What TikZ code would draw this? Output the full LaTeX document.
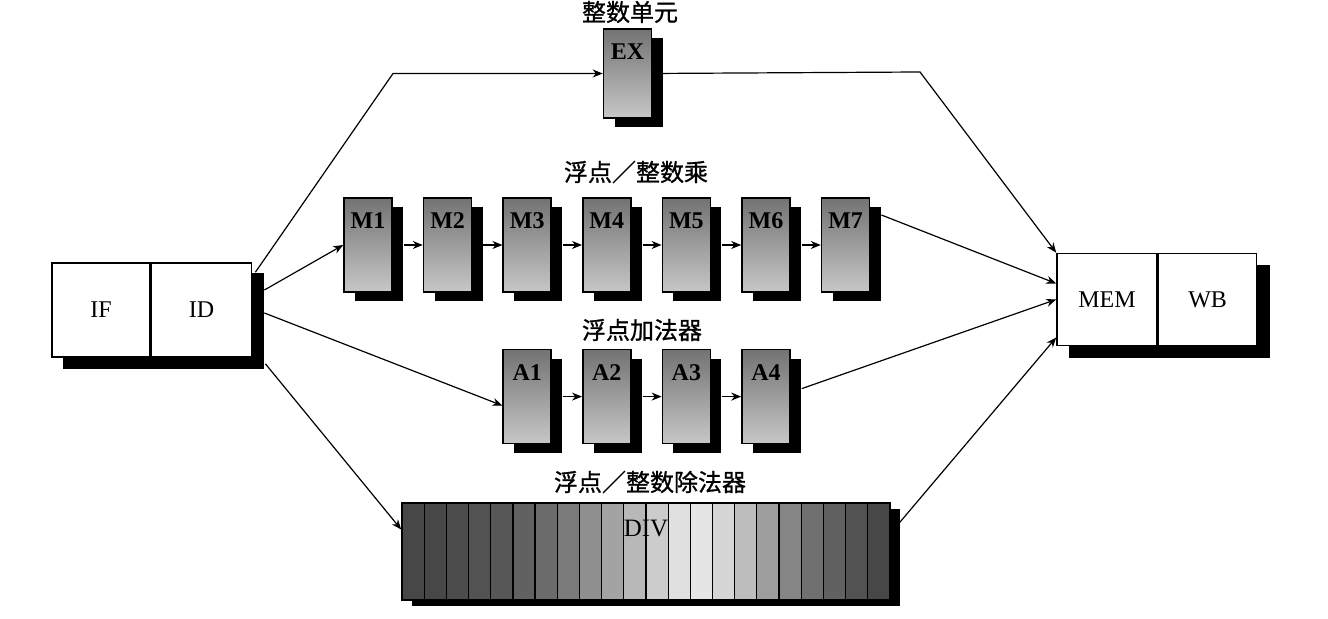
\documentclass[tikz,border=0pt]{standalone}
\usepackage{fontspec}
\setmainfont{Liberation Serif}
\newfontfamily\cjk[FakeBold=1]{Noto Sans CJK SC}
\usetikzlibrary{arrows.meta, positioning, calc, shadows, backgrounds}

\begin{document}
\begin{tikzpicture}[
        x=0.5pt, y=-0.5pt,
        node distance=15pt,
        stagebox/.style={rectangle, draw=black, thick, top color=black!55, bottom color=black!22, minimum width=24pt, text height=15.5pt, text depth=31.5pt, inner sep=0pt, font=\fontsize{12}{14}\selectfont\bfseries, drop shadow={shadow xshift=5.5pt, shadow yshift=-4.5pt, fill=black, opacity=1}},
        regbox/.style={rectangle, draw=black, thick, fill=white, minimum height=47pt, inner sep=0pt, font=\fontsize{12}{14}\selectfont},
        divbox/.style={rectangle, draw=black, thick, minimum width=244pt, text height=17pt, text depth=31.5pt, inner sep=0pt, font=\fontsize{12.5}{14}\selectfont,
            path picture={
                \foreach \s [count=\k from 0] in {72,72,70,68,66,62,58,52,44,36,28,20,12,10,16,26,38,48,56,62,68,72}
                    \filldraw[fill=black!\s, draw=black, line width=0.6pt] ([xshift=\k*11.09pt]path picture bounding box.north west) rectangle ++(11.09pt,-48.5pt);
            },
            drop shadow={shadow xshift=5pt, shadow yshift=-3pt, fill=black, opacity=1}},
        grouplabel/.style={inner sep=0pt, font=\cjk\fontsize{12}{15}\selectfont},
        arrow/.style={-{Stealth[length=5pt, width=4pt]}, line width=0.6pt, black}
    ]
        \useasboundingbox (0,0) rectangle (1328,619);

        % front end and back end
        \node[regbox, minimum width=49pt] (fetch) at (101,310) {IF};
        \node[regbox, minimum width=50pt, right=0pt of fetch] (decode) {ID};
        \node[regbox, minimum width=50pt, minimum height=46pt] (mem) at (1107,299.5) {MEM};
        \node[regbox, minimum width=49pt, minimum height=46pt, right=0pt of mem] (wb) {WB};
        \begin{scope}[on background layer]
            \fill[black] ([xshift=6pt, yshift=-5.5pt]fetch.north west) rectangle ([xshift=6pt, yshift=-5.5pt]decode.south east);
            \fill[black] ([xshift=6.5pt, yshift=-6pt]mem.north west) rectangle ([xshift=6.5pt, yshift=-6pt]wb.south east);
        \end{scope}

        % integer unit
        \node[stagebox, text depth=29pt] (ex) at (627.5,73.5) {EX};
        \node[grouplabel] (exlabel) at (630,12) {整数单元};

        % multiplier
        \node[stagebox] (m1) at (368,245) {M1};
        \node[stagebox, right=of m1] (m2) {M2};
        \node[stagebox, right=of m2] (m3) {M3};
        \node[stagebox, right=of m3] (m4) {M4};
        \node[stagebox, right=of m4] (m5) {M5};
        \node[stagebox, right=of m5] (m6) {M6};
        \node[stagebox, right=of m6] (m7) {M7};
        \node[grouplabel] (mlabel) at (636,172) {浮点／整数乘};

        % adder
        \node[stagebox, below=28pt of m3] (a1) {A1};
        \node[stagebox, right=of a1] (a2) {A2};
        \node[stagebox, right=of a2] (a3) {A3};
        \node[stagebox, right=of a3] (a4) {A4};
        \node[grouplabel] (alabel) at (642,330) {浮点加法器};

        % divider
        \node[divbox] (div) at (646,551.5) {DIV};
        \node[grouplabel] (divlabel) at (650,482) {浮点／整数除法器};

        \coordinate (exbend) at (393,73.5);
        \coordinate (wbbend) at (920,72);

        \draw[arrow] ([xshift=1.5pt, yshift=-5pt]decode.north east) -- (exbend) -- (ex.west);
        \draw[arrow] (ex.east) -- (wbbend) -- (mem.north west);
        \draw[arrow] ([xshift=6pt, yshift=10pt]decode.east) -- (m1.west);
        \foreach \a/\b in {m1/m2, m2/m3, m3/m4, m4/m5, m5/m6, m6/m7, a1/a2, a2/a3, a3/a4}
            \draw[arrow] ([xshift=5.5pt]\a.east) -- (\b.west);
        \draw[arrow] ([xshift=5.5pt, yshift=15pt]m7.east) -- ([yshift=8pt]mem.west);
        \draw[arrow] ([xshift=6pt, yshift=-1.5pt]decode.east) -- ([yshift=-4.5pt]a1.west);
        \draw[arrow] ([xshift=5.5pt, yshift=4pt]a4.east) -- (mem.west);
        \draw[arrow] ([xshift=6.5pt, yshift=-3pt]decode.south east) -- ([yshift=11pt]div.west);
        \draw[arrow] ([xshift=4pt, yshift=14pt]div.east) -- ([yshift=-19pt]mem.west);
    \end{tikzpicture}
\end{document}
